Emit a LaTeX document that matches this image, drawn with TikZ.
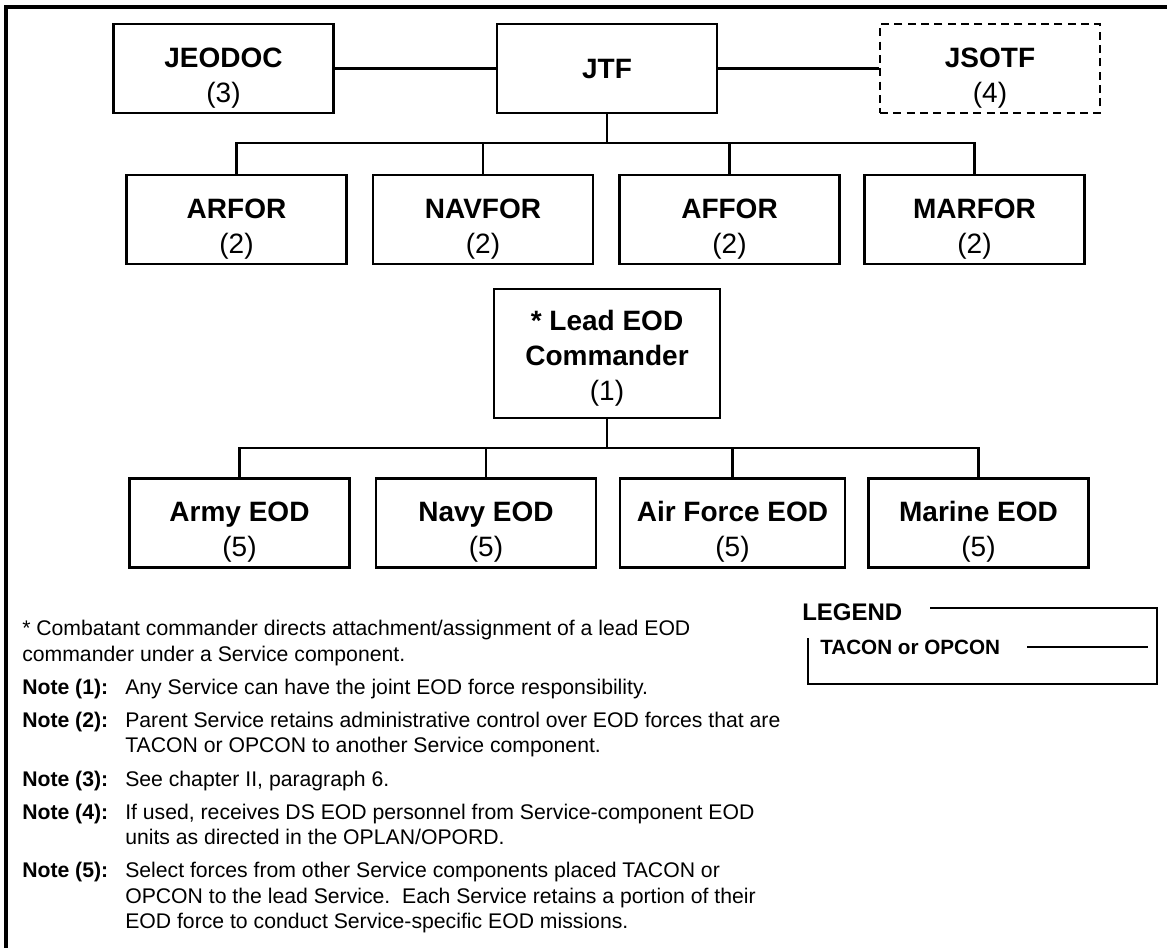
\documentclass[tikz,border=0pt]{standalone}
\usepackage{fontspec}
\setmainfont{Liberation Sans}
\newcommand{\dnstrut}{\rule{0pt}{29pt}}
\newcommand{\ldstrut}{\rule{0pt}{23pt}}
\begin{document}
\begin{tikzpicture}[x=0.75pt,y=-0.75pt]
\tikzset{
  orgbox/.style={draw, line width=1.9pt, minimum width=165pt, minimum height=66.75pt,
    align=center, inner sep=0pt, font=\fontsize{21}{26.25}\selectfont},
  dashbox/.style={orgbox, dash pattern=on 6pt off 4pt},
  conn/.style={line width=1.6pt},
  notelbl/.style={anchor=base west, inner sep=0pt, font=\fontsize{15.9}{19}\selectfont\bfseries},
  notetxt/.style={anchor=base west, inner sep=0pt, font=\fontsize{15.9}{19}\selectfont},
}
\useasboundingbox (0,0) rectangle (1167,947);
% frame
\draw[line width=3pt] (6,960) -- (6,7) -- (1180,7);

% top row
\node[orgbox] (jeodoc) at (223.5,68.5) {\dnstrut\textbf{JEODOC}\\(3)};
\node[orgbox] (jtf) at (607,68.5) {\textbf{JTF}};
\node[dashbox] (jsotf) at (990,68.5) {\dnstrut\textbf{JSOTF}\\(4)};
\draw[conn] (jeodoc) -- (jtf);
\draw[conn] (jtf) -- (jsotf);

% components
\node[orgbox] (arfor) at (236.5,219.5) {\dnstrut\textbf{ARFOR}\\(2)};
\node[orgbox] (navfor) at (483,219.5) {\dnstrut\textbf{NAVFOR}\\(2)};
\node[orgbox] (affor) at (729.5,219.5) {\dnstrut\textbf{AFFOR}\\(2)};
\node[orgbox] (marfor) at (974.5,219.5) {\dnstrut\textbf{MARFOR}\\(2)};
\coordinate (bus1) at (607,143);
\draw[conn] (jtf.south) -- (bus1);
\draw[conn] (arfor.north) |- (bus1) -| (marfor.north);
\draw[conn] (navfor.north) -- (navfor.north |- bus1);
\draw[conn] (affor.north) -- (affor.north |- bus1);

% lead
\node[orgbox, minimum width=169.5pt, minimum height=96.75pt] (lead) at (607,353.5)
  {\ldstrut\textbf{* Lead EOD}\\\textbf{Commander}\\(1)};

% EOD row
\node[orgbox] (army) at (239.5,523) {\dnstrut\textbf{Army EOD}\\(5)};
\node[orgbox] (navy) at (486,523) {\dnstrut\textbf{Navy EOD}\\(5)};
\node[orgbox, minimum width=168.75pt] (airf) at (732.5,523) {\dnstrut\textbf{Air Force EOD}\\(5)};
\node[orgbox] (marine) at (978.5,523) {\dnstrut\textbf{Marine EOD}\\(5)};
\coordinate (bus2) at (607,448);
\draw[conn] (lead.south) -- (bus2);
\draw[conn] (army.north) |- (bus2) -| (marine.north);
\draw[conn] (navy.north) -- (navy.north |- bus2);
\draw[conn] (airf.north) -- (airf.north |- bus2);

% notes
\node[notetxt] (n0a) at (22,635) {* Combatant commander directs attachment/assignment of a lead EOD};
\node[notetxt] (n0b) at (22,661) {commander under a Service component.};
\node[notelbl] (l1) at (22,694) {Note (1):};
\node[notetxt] (t1) at (125,694) {Any Service can have the joint EOD force responsibility.};
\node[notelbl] (l2) at (22,727) {Note (2):};
\node[notetxt] (t2a) at (125,727) {Parent Service retains administrative control over EOD forces that are};
\node[notetxt] (t2b) at (125,752) {TACON or OPCON to another Service component.};
\node[notelbl] (l3) at (22,786) {Note (3):};
\node[notetxt] (t3) at (125,786) {See chapter II, paragraph 6.};
\node[notelbl] (l4) at (22,819) {Note (4):};
\node[notetxt] (t4a) at (125,819) {If used, receives DS EOD personnel from Service-component EOD};
\node[notetxt] (t4b) at (125,844) {units as directed in the OPLAN/OPORD.};
\node[notelbl] (l5) at (22,877) {Note (5):};
\node[notetxt] (t5a) at (125,877) {Select forces from other Service components placed TACON or};
\node[notetxt] (t5b) at (125,903) {OPCON to the lead Service.\ \ Each Service retains a portion of their};
\node[notetxt] (t5c) at (125,928) {EOD force to conduct Service-specific EOD missions.};

% legend
\node[anchor=base west, inner sep=0pt, font=\fontsize{18}{22}\selectfont\bfseries] (leg) at (802,620) {LEGEND};
\coordinate (lg1) at (930,608);
\coordinate (lg2) at (808,638);
\draw[line width=1.4pt] (lg1) -- (1157,608) -- (1157,684) -- (808,684) -- (lg2);
\node[anchor=base west, inner sep=0pt, font=\fontsize{15.5}{18}\selectfont\bfseries] (tac) at (820,654) {TACON or OPCON};
\coordinate (tl1) at (1027,647);
\coordinate (tl2) at (1148,647);
\draw[line width=1.6pt] (tl1) -- (tl2);
\end{tikzpicture}
\end{document}
